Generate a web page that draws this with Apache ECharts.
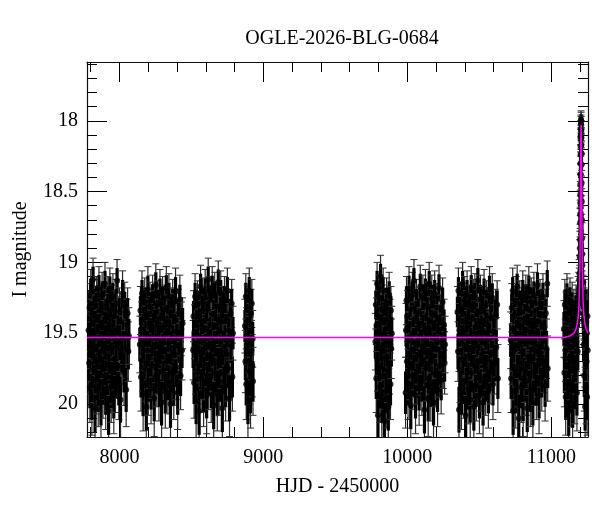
<!DOCTYPE html>
<html>
<head>
<meta charset="utf-8">
<script src="https://cdn.jsdelivr.net/npm/echarts@6/dist/echarts.min.js"></script>
<style>
html,body{margin:0;padding:0;background:#fff;}
#lc{width:600px;height:512px;}
</style>
</head>
<body>
<div id="lc"></div>
<script>
// photometry: [HJD-2450000, I mag, error], one array per season
var season1 = [[7786,19.48,.19],[7790,19.71,.22],[7793,19.32,.17],[7795,19.88,.25],[7798,19.55,.2],[7801,19.21,.16],[7803,19.63,.21],[7806,19.44,.18],[7809,19.95,.27],[7812,19.37,.17],[7814,19.58,.2],[7817,19.12,.15],[7820,19.76,.23],[7822,19.5,.19],[7825,19.29,.17],[7828,19.67,.22],[7831,20.03,.28],[7833,19.41,.18],[7836,19.6,.2],[7839,19.83,.24],[7842,19.26,.16],[7844,19.53,.19],[7847,19.71,.22],[7850,19.39,.18],[7853,19.9,.26],[7855,19.47,.19],[7858,19.18,.15],[7861,19.64,.21],[7864,19.79,.23],[7866,19.34,.17],[7869,19.56,.2],[7872,19.99,.27],[7875,19.43,.18],[7877,19.69,.22],[7880,19.23,.16],[7883,19.52,.19],[7886,19.85,.25],[7889,19.31,.17],[7891,19.61,.21],[7894,19.46,.19],[7897,19.74,.23],[7900,19.15,.15],[7903,19.58,.2],[7905,19.92,.26],[7908,19.37,.18],[7911,19.66,.21],[7914,19.5,.19],[7917,19.81,.24],[7920,19.27,.17],[7922,19.55,.2],[7925,20.05,.28],[7928,19.4,.18],[7931,19.72,.22],[7934,19.2,.16],[7937,19.62,.21],[7940,19.45,.19],[7943,19.88,.25],[7946,19.33,.17],[7949,19.59,.2],[7952,19.77,.23],[7955,19.24,.16],[7958,19.51,.19],[7961,19.94,.27],[7964,19.38,.18],[7967,19.68,.22],[7970,19.47,.19],[7973,19.82,.24],[7977,19.29,.17],[7980,19.6,.2],[7984,19.13,.15],[7988,19.73,.23],[7992,19.49,.19],[7996,19.86,.25],[8000,19.35,.17],[8004,19.57,.2],[8008,19.97,.27],[8012,19.42,.18],[8017,19.65,.21],[8022,19.22,.16],[8027,19.53,.19],[8032,19.78,.23],[8037,19.31,.17],[8042,19.61,.21],[8047,19.9,.26],[8052,19.44,.18],[8057,19.36,.18],[8062,19.63,.21],[8066,19.52,.2]];
var season2 = [[8142,19.58,.2],[8146,19.34,.17],[8150,19.81,.24],[8154,19.47,.19],[8157,19.22,.16],[8161,19.69,.22],[8165,19.93,.26],[8168,19.4,.18],[8172,19.56,.2],[8176,19.28,.17],[8179,19.75,.23],[8183,19.5,.19],[8187,20.02,.28],[8190,19.36,.17],[8194,19.62,.21],[8198,19.19,.16],[8201,19.84,.24],[8205,19.45,.19],[8209,19.67,.22],[8212,19.31,.17],[8216,19.54,.2],[8220,19.89,.25],[8223,19.42,.18],[8227,19.73,.23],[8231,19.25,.16],[8234,19.6,.21],[8238,19.48,.19],[8242,19.96,.27],[8245,19.37,.17],[8249,19.64,.21],[8253,19.16,.15],[8256,19.79,.23],[8260,19.52,.19],[8264,19.3,.17],[8267,19.71,.22],[8271,19.44,.18],[8275,19.87,.25],[8278,19.58,.2],[8282,19.21,.16],[8286,19.66,.22],[8289,19.39,.18],[8293,19.99,.27],[8297,19.55,.2],[8300,19.27,.17],[8304,19.76,.23],[8308,19.46,.19],[8311,19.63,.21],[8315,19.33,.17],[8319,19.91,.26],[8322,19.5,.19],[8326,19.18,.15],[8330,19.7,.22],[8333,19.41,.18],[8337,19.83,.24],[8341,19.57,.2],[8344,19.24,.16],[8348,19.68,.22],[8352,19.45,.19],[8355,20.0,.28],[8359,19.35,.17],[8363,19.61,.21],[8366,19.78,.23],[8370,19.29,.17],[8374,19.53,.2],[8378,19.86,.25],[8382,19.4,.18],[8386,19.65,.21],[8390,19.2,.16],[8395,19.74,.23],[8400,19.49,.19],[8405,19.92,.26],[8410,19.36,.17],[8415,19.59,.2],[8420,19.26,.17],[8425,19.8,.24],[8430,19.47,.19],[8435,19.62,.21],[8439,19.43,.18]];
var season3 = [[8512,19.62,.21],[8515,19.38,.18],[8519,19.85,.25],[8522,19.49,.19],[8526,19.24,.16],[8529,19.71,.22],[8533,19.98,.27],[8536,19.43,.18],[8540,19.57,.2],[8543,19.3,.17],[8547,19.77,.23],[8550,19.52,.19],[8554,20.05,.28],[8557,19.35,.17],[8561,19.64,.21],[8564,19.17,.15],[8568,19.82,.24],[8571,19.46,.19],[8575,19.68,.22],[8578,19.28,.17],[8582,19.55,.2],[8585,19.9,.26],[8589,19.41,.18],[8592,19.74,.23],[8596,19.21,.16],[8599,19.6,.21],[8603,19.47,.19],[8606,19.94,.27],[8610,19.33,.17],[8613,19.66,.22],[8617,19.12,.15],[8620,19.8,.24],[8624,19.51,.19],[8627,19.26,.16],[8631,19.72,.22],[8634,19.44,.18],[8638,19.88,.25],[8641,19.58,.2],[8645,19.19,.16],[8648,19.69,.22],[8652,19.37,.18],[8655,20.01,.28],[8659,19.54,.2],[8662,19.23,.16],[8666,19.78,.23],[8669,19.45,.19],[8673,19.63,.21],[8676,19.31,.17],[8680,19.93,.26],[8683,19.5,.19],[8687,19.14,.15],[8690,19.7,.22],[8694,19.4,.18],[8697,19.84,.24],[8701,19.56,.2],[8704,19.22,.16],[8708,19.67,.22],[8711,19.42,.18],[8715,20.03,.28],[8718,19.34,.17],[8722,19.61,.21],[8726,19.79,.23],[8730,19.27,.17],[8734,19.53,.2],[8738,19.87,.25],[8742,19.39,.18],[8746,19.65,.21],[8750,19.2,.16],[8755,19.75,.23],[8760,19.48,.19],[8765,19.96,.27],[8770,19.36,.17],[8775,19.59,.2],[8780,19.29,.17],[8785,19.81,.24],[8789,19.5,.19]];
var season4 = [[8872,19.45,.19],[8875,19.7,.22],[8878,19.24,.16],[8881,19.86,.25],[8884,19.52,.2],[8887,19.33,.17],[8890,19.64,.21],[8893,19.98,.27],[8896,19.41,.18],[8899,19.58,.2],[8902,19.2,.16],[8905,19.77,.23],[8908,19.48,.19],[8911,19.91,.26],[8914,19.36,.17],[8917,19.62,.21],[8920,19.29,.17],[8923,19.73,.22],[8926,19.54,.2],[8928,19.84,.24]];
var season5 = [[9778,19.56,.2],[9781,19.3,.17],[9784,19.82,.24],[9787,19.44,.19],[9790,19.15,.15],[9793,19.69,.22],[9796,20.08,.28],[9799,19.38,.18],[9802,19.6,.21],[9805,19.25,.16],[9808,19.88,.25],[9811,19.5,.19],[9814,19.1,.15],[9817,19.74,.23],[9820,19.42,.18],[9823,19.97,.27],[9826,19.33,.17],[9829,19.63,.21],[9832,19.2,.16],[9835,19.8,.24],[9838,19.53,.2],[9841,20.12,.29],[9844,19.36,.17],[9847,19.67,.22],[9850,19.47,.19],[9853,19.91,.26],[9856,19.28,.17],[9859,19.58,.2],[9862,19.76,.23],[9865,19.4,.18],[9868,20.02,.28],[9871,19.55,.2],[9874,19.23,.16],[9877,19.71,.22],[9880,19.45,.19],[9883,19.86,.25],[9886,19.34,.17],[9889,19.61,.21],[9892,19.5,.19]];
var season6 = [[9988,19.92,.25],[9991,19.48,.19],[9994,19.27,.17],[9997,19.7,.22],[10001,19.38,.18],[10005,19.86,.25],[10009,19.55,.2],[10012,19.19,.16],[10016,19.74,.23],[10020,19.44,.18],[10024,20.01,.28],[10027,19.33,.17],[10031,19.62,.21],[10035,19.23,.16],[10038,19.8,.24],[10042,19.5,.19],[10046,19.13,.15],[10049,19.68,.22],[10053,19.41,.18],[10057,19.94,.27],[10060,19.57,.2],[10064,19.29,.17],[10068,19.77,.23],[10071,19.46,.19],[10075,19.65,.21],[10079,19.35,.17],[10082,19.89,.26],[10086,19.52,.19],[10090,19.17,.15],[10093,19.72,.22],[10097,19.43,.18],[10101,19.84,.24],[10104,19.59,.2],[10108,19.25,.16],[10112,19.69,.22],[10115,19.39,.18],[10119,20.04,.28],[10123,19.54,.2],[10126,19.21,.16],[10130,19.75,.23],[10134,19.47,.19],[10137,19.63,.21],[10141,19.31,.17],[10145,19.96,.27],[10148,19.5,.19],[10152,19.15,.15],[10156,19.71,.22],[10159,19.42,.18],[10163,19.87,.25],[10167,19.58,.2],[10170,19.26,.17],[10174,19.66,.22],[10178,19.37,.18],[10182,19.99,.27],[10186,19.53,.2],[10190,19.22,.16],[10194,19.79,.23],[10198,19.45,.19],[10202,19.61,.21],[10206,19.32,.17],[10210,19.9,.26],[10215,19.49,.19],[10220,19.18,.16],[10225,19.73,.22],[10230,19.41,.18],[10235,19.83,.24],[10240,19.56,.2],[10245,19.28,.17],[10250,19.67,.22],[10255,19.44,.18],[10259,19.71,.22],[10262,19.58,.2]];
var season7 = [[10348,19.35,.18],[10352,19.63,.21],[10355,19.2,.16],[10359,20.04,.27],[10362,19.48,.19],[10366,19.76,.23],[10369,19.31,.17],[10373,19.57,.2],[10376,19.92,.26],[10380,19.42,.18],[10384,19.15,.15],[10387,19.69,.22],[10391,19.5,.19],[10394,19.85,.25],[10398,19.27,.17],[10401,19.6,.21],[10405,20.08,.28],[10408,19.38,.18],[10412,19.72,.22],[10415,19.22,.16],[10419,19.54,.2],[10422,19.89,.25],[10426,19.45,.19],[10430,19.66,.22],[10433,19.33,.17],[10437,19.97,.27],[10440,19.52,.19],[10444,19.18,.15],[10447,19.78,.23],[10451,19.4,.18],[10454,19.62,.21],[10458,19.29,.17],[10462,20.02,.28],[10465,19.56,.2],[10469,19.24,.16],[10472,19.74,.23],[10476,19.46,.19],[10479,19.87,.25],[10483,19.36,.17],[10486,19.59,.2],[10490,19.13,.15],[10494,19.7,.22],[10497,19.43,.18],[10501,19.94,.27],[10504,19.51,.19],[10508,19.26,.17],[10511,19.81,.24],[10515,19.47,.19],[10519,19.65,.21],[10522,19.34,.17],[10526,19.99,.27],[10529,19.55,.2],[10533,19.21,.16],[10537,19.73,.22],[10540,19.41,.18],[10544,19.84,.24],[10548,19.58,.2],[10551,19.3,.17],[10555,19.68,.22],[10559,19.44,.18],[10563,19.91,.26],[10567,19.53,.2],[10571,19.19,.16],[10575,19.77,.23],[10580,19.39,.18],[10585,19.64,.21],[10590,19.25,.17],[10595,19.86,.25],[10600,19.49,.19],[10606,19.71,.22],[10612,19.37,.18],[10618,19.6,.21],[10624,19.3,.17],[10629,19.82,.24]];
var season8 = [[10718,19.55,.2],[10721,19.82,.24],[10725,19.32,.17],[10728,19.65,.21],[10732,19.2,.16],[10735,20.05,.28],[10739,19.47,.19],[10742,19.74,.23],[10746,19.38,.18],[10749,19.6,.21],[10753,19.91,.26],[10756,19.27,.17],[10760,19.52,.19],[10763,19.17,.15],[10767,19.79,.23],[10770,19.43,.18],[10774,20.1,.28],[10777,19.58,.2],[10781,19.3,.17],[10784,19.7,.22],[10788,19.46,.19],[10791,19.88,.25],[10795,19.35,.17],[10798,19.63,.21],[10802,19.22,.16],[10805,19.96,.27],[10809,19.5,.19],[10812,19.76,.23],[10816,19.4,.18],[10819,19.57,.2],[10823,19.25,.16],[10826,19.84,.24],[10830,19.48,.19],[10833,20.03,.28],[10837,19.33,.17],[10840,19.67,.22],[10844,19.19,.16],[10847,19.72,.22],[10851,19.44,.18],[10854,19.9,.26],[10858,19.56,.2],[10861,19.28,.17],[10865,19.69,.22],[10868,19.41,.18],[10872,19.99,.27],[10875,19.53,.2],[10879,19.23,.16],[10882,19.78,.23],[10886,19.45,.19],[10889,19.62,.21],[10893,19.34,.17],[10896,19.86,.25],[10900,19.51,.19],[10904,19.16,.15],[10907,19.73,.22],[10911,19.42,.18],[10915,19.94,.27],[10918,19.59,.2],[10922,19.29,.17],[10926,19.66,.22],[10930,19.37,.18],[10934,19.81,.24],[10938,19.54,.2],[10942,19.24,.16],[10947,19.7,.22],[10952,19.46,.19],[10957,19.87,.25],[10962,19.36,.17],[10967,19.61,.21],[10972,19.15,.16],[10975,19.75,.23]];
var season9 = [[11088,19.47,.2],[11091,19.78,.24],[11094,19.3,.18],[11097,19.62,.22],[11100,19.95,.27],[11103,19.4,.19],[11106,19.68,.23],[11109,19.25,.17],[11112,19.55,.21],[11115,19.85,.25],[11118,19.36,.18],[11121,20.05,.29],[11124,19.5,.2],[11127,19.73,.24],[11130,19.28,.17],[11133,19.6,.22],[11136,19.9,.26],[11139,19.43,.19],[11142,19.66,.23],[11145,19.32,.18],[11148,20.0,.28],[11151,19.52,.21],[11154,19.76,.24],[11157,19.38,.19],[11160,19.58,.21],[11163,19.88,.26],[11166,19.45,.2],[11169,19.7,.23],[11172,19.34,.18],[11175,19.56,.21],[11178,19.92,.27],[11181,19.41,.19],[11184,19.63,.22],[11187,19.28,.18],
  [11188,19.36,.16],[11190,19.22,.15],[11192,19.28,.15],[11194,19.12,.14],[11195,19.18,.14],[11196,19.08,.13],[11197,18.96,.12],[11198,18.9,.12],[11199,18.84,.11],[11200,18.72,.1],[11200.5,18.66,.1],[11201,18.58,.09],[11201.5,18.52,.09],[11202,18.45,.08],[11202.5,18.38,.08],[11203,18.3,.08],[11203.5,18.24,.07],[11204,18.18,.07],[11204.5,18.13,.07],[11205,18.1,.07],[11205.5,18.06,.06],[11206,18.02,.06],[11206.5,17.99,.06],[11207,18.0,.06],[11207.5,18.03,.06],[11208,18.07,.07],[11208.5,18.12,.07],[11209,18.17,.07],[11209.5,18.23,.08],[11210,18.31,.08],[11211,18.44,.09],[11212,18.57,.09],[11213,18.7,.1],[11214,18.83,.11],[11215,18.94,.12],[11216,19.02,.12],[11218,19.14,.14],[11219,19.24,.15],[11221,19.3,.16],[11223,19.41,.17],
  [11225,19.58,.21],[11227,19.36,.18],[11229,19.8,.25],[11231,19.45,.2],[11233,19.66,.22],[11235,20.02,.28],[11237,19.3,.18],[11239,19.55,.21],[11241,19.88,.26],[11243,19.42,.19],[11245,19.7,.23],[11247,19.5,.2],[11249,19.95,.27],[11251,19.38,.19],[11253,19.62,.22]];

// model curve
var modelT = [7775, 11090, 11127, 11157, 11172, 11181, 11187, 11192, 11196, 11199, 11201, 11203, 11205, 11207, 11209, 11211, 11213, 11215, 11218, 11222, 11227, 11233, 11242, 11255];
var modelM = [19.53, 19.53, 19.52, 19.5, 19.47, 19.43, 19.38, 19.3, 19.17, 18.98, 18.75, 18.45, 18.15, 18.03, 18.15, 18.45, 18.75, 18.98, 19.17, 19.3, 19.38, 19.43, 19.47, 19.5];

// ticks
var xMajor = [8000, 9000, 10000, 11000];
var xMinor = [7800, 8200, 8400, 8600, 8800, 9200, 9400, 9600, 9800, 10200, 10400, 10600, 10800, 11200];
var yMajor = [18, 18.5, 19, 19.5, 20];
var yMinor = [17.6, 17.7, 17.8, 17.9, 18.1, 18.2, 18.3, 18.4, 18.6, 18.7, 18.8, 18.9, 19.1, 19.2, 19.3, 19.4, 19.6, 19.7, 19.8, 19.9, 20.1, 20.2];

var X_MIN = 7775, X_MAX = 11255, Y_MIN = 17.585, Y_MAX = 20.233;
var FONT = 'Liberation Serif';

var allPts = [].concat(season1, season2, season3, season4, season5, season6, season7, season8, season9);
var modelData = modelT.map(function (t, i) { return [t, modelM[i]]; });

function renderErr(params, api) {
    var t = api.value(0), m = api.value(1), e = api.value(2);
    var a = api.coord([t, m - e]);
    var b = api.coord([t, m + e]);
    var cw = 3.5;
    // inner part of the bar drawn thicker so the overlapping cloud reads solid
    var c = api.coord([t, m - e * 0.6]);
    var d = api.coord([t, m + e * 0.6]);
    var st = { stroke: '#2a2a2a', lineWidth: 1.2 };
    var core = { stroke: '#000', lineWidth: 3.2 };
    var cap = { stroke: '#333', lineWidth: 1 };
    return {
        type: 'group',
        children: [
            { type: 'line', shape: { x1: a[0], y1: a[1], x2: b[0], y2: b[1] }, style: st },
            { type: 'line', shape: { x1: c[0], y1: c[1], x2: d[0], y2: d[1] }, style: core },
            { type: 'line', shape: { x1: a[0] - cw, y1: a[1], x2: a[0] + cw, y2: a[1] }, style: cap },
            { type: 'line', shape: { x1: b[0] - cw, y1: b[1], x2: b[0] + cw, y2: b[1] }, style: cap }
        ]
    };
}

function xAx(pos, grid, ticks, len, labels, line) {
    return {
        type: 'value', gridIndex: grid, position: pos, min: X_MIN, max: X_MAX,
        axisLine: { show: line, onZero: false, lineStyle: { color: '#111', width: 1.2 } },
        axisTick: { show: true, inside: true, length: len, customValues: ticks, lineStyle: { color: '#000', width: 1 } },
        axisLabel: {
            show: labels, customValues: ticks, margin: 11, color: '#000', fontFamily: FONT, fontSize: 20,
            formatter: function (v) { return String(v); }
        },
        splitLine: { show: false }
    };
}
function yAx(pos, grid, ticks, len, labels, line) {
    return {
        type: 'value', gridIndex: grid, position: pos, min: Y_MIN, max: Y_MAX, inverse: true,
        axisLine: { show: line, onZero: false, lineStyle: { color: '#111', width: 1.2 } },
        axisTick: { show: true, inside: true, length: len, customValues: ticks, lineStyle: { color: '#000', width: 1 } },
        axisLabel: {
            show: labels, customValues: ticks, margin: 9, color: '#000', fontFamily: FONT, fontSize: 20,
            formatter: function (v) { return String(v); }
        },
        splitLine: { show: false }
    };
}

var gx0 = xAx('bottom', 0, xMajor, 20, true, true);
gx0.name = 'HJD - 2450000';
gx0.nameLocation = 'middle';
gx0.nameGap = 40;
gx0.nameTextStyle = { color: '#000', fontFamily: FONT, fontSize: 20 };
var gy0 = yAx('left', 0, yMajor, 20, true, true);
gy0.name = 'I magnitude';
gy0.nameLocation = 'middle';
gy0.nameGap = 56;
gy0.nameTextStyle = { color: '#000', fontFamily: FONT, fontSize: 20 };

var chart = echarts.init(document.getElementById('lc'));
chart.setOption({
    animation: false,
    backgroundColor: '#fff',
    title: {
        text: 'OGLE-2026-BLG-0684', left: 337, top: 24, textAlign: 'center',
        textStyle: { color: '#000', fontFamily: FONT, fontSize: 20, fontWeight: 'normal' }
    },
    grid: [
        { left: 87, right: 12, top: 62, bottom: 75 },
        { left: 87, right: 12, top: 62, bottom: 75 }
    ],
    xAxis: [
        gx0,
        xAx('top', 0, xMajor, 20, false, true),
        xAx('bottom', 1, xMinor, 10, false, false),
        xAx('top', 1, xMinor, 10, false, false)
    ],
    yAxis: [
        gy0,
        yAx('right', 0, yMajor, 20, false, true),
        yAx('left', 1, yMinor, 10, false, false),
        yAx('right', 1, yMinor, 10, false, false)
    ],
    series: [
        {
            type: 'custom', xAxisIndex: 0, yAxisIndex: 0, clip: true,
            renderItem: renderErr, data: allPts, encode: { x: 0, y: 1 }, z: 1
        },
        {
            type: 'scatter', xAxisIndex: 0, yAxisIndex: 0, clip: true,
            data: allPts.map(function (p) { return [p[0], p[1]]; }),
            symbol: 'circle', symbolSize: 6, itemStyle: { color: '#000' }, z: 2
        },
        {
            type: 'line', xAxisIndex: 0, yAxisIndex: 0, data: modelData,
            showSymbol: false, smooth: false,
            lineStyle: { color: '#ff00ff', width: 1.5 }, z: 3
        }
    ]
});
</script>
</body>
</html>
